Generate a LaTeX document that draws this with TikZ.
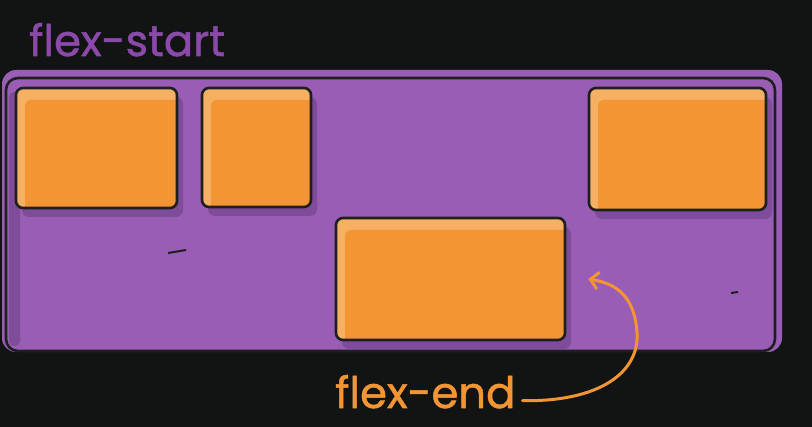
\documentclass[tikz,border=0pt]{standalone}
\usepackage{fontspec}
\setmainfont[FakeBold=1.2]{Poppins}
\usetikzlibrary{arrows.meta,shadows}
\definecolor{bg}{HTML}{121414}
\definecolor{cpurple}{HTML}{9A5DB5}
\definecolor{pshade}{HTML}{7E4C99}
\definecolor{lpurple}{HTML}{8B49A9}
\definecolor{iorange}{HTML}{F29532}
\definecolor{ihigh}{HTML}{F5B063}
\definecolor{ink}{HTML}{1E1F1F}

\begin{document}
\begin{tikzpicture}[x=1pt,y=-1pt,
  item/.style={draw=ink, line width=2.6pt, fill=ihigh, rounded corners=7pt, inner sep=0pt,
    drop shadow={shadow xshift=6pt, shadow yshift=-9pt, fill=pshade, opacity=1},
    path picture={\fill[iorange, rounded corners=6pt]
      ([shift={(9pt,-12pt)}]path picture bounding box.north west) rectangle
      ([shift={(4pt,-4pt)}]path picture bounding box.south east);}},
  label/.style={anchor=base west, inner sep=0pt, font=\fontsize{43.3}{43}\selectfont}]
  \useasboundingbox[fill=bg] (0,0) rectangle (812,427);
  % container
  \fill[cpurple, rounded corners=14pt] (2,70) rectangle (782,352);
  \fill[pshade, rounded corners=5pt] (9,92) rectangle (20,346);
  \draw[ink, line width=2.6pt, rounded corners=12pt] (6,78) rectangle (775,351);
  \draw[ink, line width=2pt] (168,253) -- (186,250);
  \draw[ink, line width=2pt] (731,293) -- (738,292);
  % items
  \node[item, minimum width=161pt, minimum height=120pt] (b1) at (96.5,148) {};
  \node[item, minimum width=109pt, minimum height=119pt] (b2) at (256.5,147.5) {};
  \node[item, minimum width=177pt, minimum height=122pt] (b3) at (677.5,149) {};
  \node[item, minimum width=229pt, minimum height=122pt] (b4) at (450.5,279) {};
  % labels
  \node[label, text=lpurple] (fs) at (29,56) {flex-start};
  \node[label, text=iorange] (fe) at (335,408) {flex-end};
  \draw[iorange, line width=3pt, line cap=round, -{Straight Barb[length=8pt,width=17pt]}]
    ([shift={(7pt,-9pt)}]fe.east) .. controls (600,402) and (640,372) .. (637,332)
    .. controls (634,292) and (612,283) .. ([xshift=22pt]b4.east);
\end{tikzpicture}
\end{document}
